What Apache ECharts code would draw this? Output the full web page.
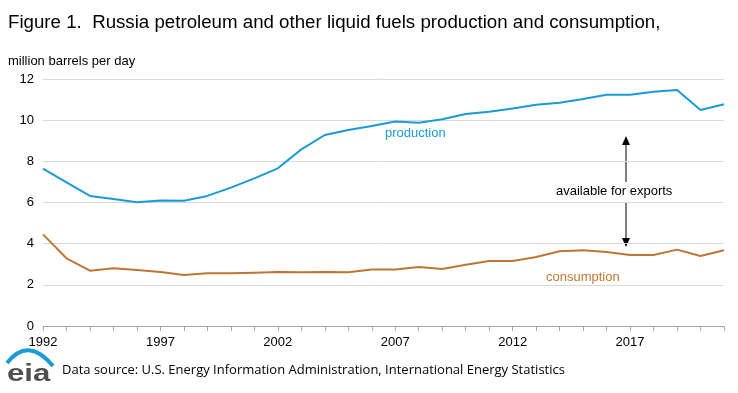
<!DOCTYPE html>
<html><head><meta charset="utf-8">
<script src="https://cdn.jsdelivr.net/npm/echarts@6/dist/echarts.min.js"></script>
<style>html,body{margin:0;padding:0;background:#fff}#c{width:738px;height:393px}</style>
</head><body><div id="c"></div>
<script>
const years = [];
for (let y = 1992; y <= 2021; y++) years.push(String(y));
const production = [7.65,6.98,6.32,6.17,6.01,6.10,6.09,6.32,6.72,7.17,7.66,8.58,9.28,9.52,9.72,9.94,9.88,10.04,10.30,10.41,10.57,10.75,10.85,11.03,11.24,11.24,11.38,11.47,10.49,10.77];
const consumption = [4.45,3.29,2.69,2.80,2.72,2.62,2.48,2.56,2.56,2.59,2.62,2.61,2.62,2.61,2.74,2.74,2.87,2.77,2.98,3.16,3.16,3.35,3.63,3.68,3.60,3.45,3.45,3.71,3.40,3.68];
const xTickLabels = ['1992','1997','2002','2007','2012','2017'];
const yTicks = [0,2,4,6,8,10,12];

const chart = echarts.init(document.getElementById('c'), null, {renderer:'canvas'});
const F = 'Liberation Sans, Arial, sans-serif';
chart.setOption({
  animation:false,
  backgroundColor:'#fff',
  grid:{left:43,right:14,top:79,bottom:67},
  xAxis:{type:'category',data:years,boundaryGap:false,
    axisLine:{lineStyle:{color:'#a6a6a6',width:1}},
    axisTick:{show:true,interval:0,length:5,lineStyle:{color:'#a6a6a6'}},
    axisLabel:{interval:0,color:'#000',fontFamily:F,fontSize:13,margin:10,
      formatter:v=>xTickLabels.includes(v)?v:''},
    splitLine:{show:false}},
  yAxis:{type:'value',min:yTicks[0],max:yTicks[yTicks.length-1],interval:2,
    axisLine:{show:false},axisTick:{show:false},
    axisLabel:{color:'#000',fontFamily:F,fontSize:13,margin:9},
    splitLine:{lineStyle:{color:'#d9d9d9',width:1}}},
  series:[
    {name:'production',type:'line',data:production,symbol:'none',lineStyle:{color:'#1a9bd7',width:2}},
    {name:'consumption',type:'line',data:consumption,symbol:'none',lineStyle:{color:'#bd7633',width:2}}
  ],
  graphic:[
    {type:'text',left:8,top:13,style:{text:'Figure 1.  Russia petroleum and other liquid fuels production and consumption,',font:'18.7px '+F,fill:'#000'}},
    {type:'text',left:8,top:55,style:{text:'million barrels per day',font:'13px '+F,fill:'#000'}},
    {type:'text',left:385,top:127,style:{text:'production',font:'13px '+F,fill:'#1a9bd7'}},
    {type:'text',left:546,top:271,style:{text:'consumption',font:'13px '+F,fill:'#c0782f'}},
    {type:'text',left:556,top:185,style:{text:'available for exports',font:'13px '+F,fill:'#000'}},
    {type:'line',shape:{x1:626,y1:143,x2:626,y2:182},style:{stroke:'#000',lineWidth:1}},
    {type:'line',shape:{x1:626,y1:203,x2:626,y2:241},style:{stroke:'#000',lineWidth:1}},
    {type:'polygon',shape:{points:[[626,136],[622,145],[630,145]]},style:{fill:'#000'}},
    {type:'polygon',shape:{points:[[626,247],[622,238],[630,238]]},style:{fill:'#000'}},
    {type:'bezierCurve',shape:{x1:7,y1:363,cpx1:28,cpy1:336,x2:53,y2:366},style:{stroke:'#1a9bd7',lineWidth:4,fill:null}},
    {type:'text',x:7,y:362,scaleX:1.3,style:{text:'eia',font:'bold 24px '+F,fill:'#505050'}},
    {type:'text',left:62,top:364,style:{text:'Data source: U.S. Energy Information Administration, International Energy Statistics',font:'13px Open Sans, sans-serif',fill:'#000'}}
  ]
});
</script></body></html>
